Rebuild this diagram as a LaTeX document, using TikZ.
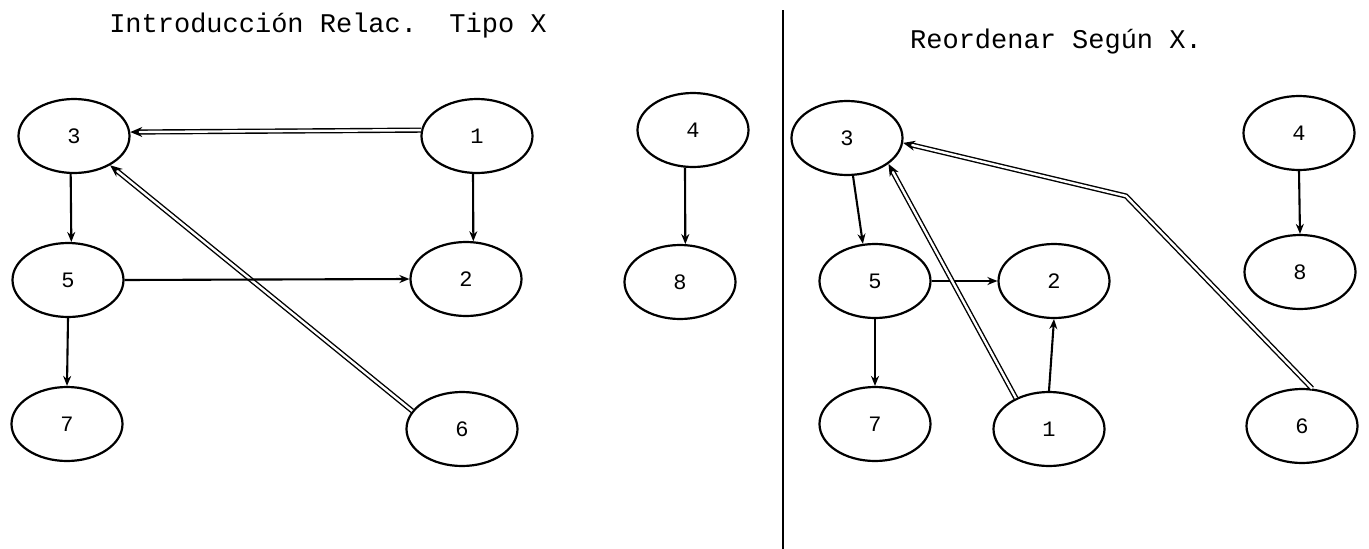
\documentclass[tikz,border=0pt]{standalone}
\usepackage{fontspec}
\newfontfamily\tw{Liberation Mono}
\usetikzlibrary{shapes.geometric,arrows.meta}
\begin{document}
\frenchspacing
\begin{tikzpicture}[x=1pt,y=-1pt,
  nd/.style={ellipse, draw, line width=2.2pt, minimum width=111pt, minimum height=74pt,
             inner sep=0pt, font=\tw\fontsize{22}{24}\selectfont},
  ar/.style={line width=2.1pt, -{Stealth[length=10pt,width=8pt]}},
  dbl/.style={double, line width=1.4pt, double distance=2.4pt, line join=miter,
              -{Stealth[length=12pt,width=10pt]}},
  ttl/.style={anchor=base, inner sep=0pt, font=\tw\fontsize{27}{30}\selectfont},
  divider/.style={line width=2.2pt}]
\useasboundingbox (0,0) rectangle (1369,549);
% titles
\node[ttl] (tL) at (328,32) {Introducción Relac.~~Tipo X};
\node[ttl] (tR) at (1056,48) {Reordenar Según X.};
% divider
\coordinate (dTop) at (783,10);
\coordinate (dBot) at (783,549);
\draw[divider] (dTop) -- (dBot);
% left graph
\node[nd] (n3l) at (74,136) {3};
\node[nd] (n1l) at (477,136) {1};
\node[nd] (n5l) at (68,280) {5};
\node[nd] (n2l) at (466,279) {2};
\node[nd] (n7l) at (67,424) {7};
\node[nd] (n6l) at (462,429) {6};
\node[nd] (n4l) at (693,130) {4};
\node[nd] (n8l) at (680,282) {8};
\draw[dbl] (n1l.174) -- (n3l.4);
\draw[dbl] (n6l.160) -- (n3l.-39);
\draw[ar] (n3l.-95) -- (n5l.85);
\draw[ar] (n1l.-96) -- (n2l.79);
\draw[ar] (n5l.east) -- (n2l.west);
\draw[ar] (n5l.south) -- (n7l.north);
\draw[ar] (n4l.-102) -- (n8l.82);
% right graph
\node[nd] (n3r) at (847,138) {3};
\node[nd] (n5r) at (875,281) {5};
\node[nd] (n2r) at (1054,281) {2};
\node[nd] (n7r) at (875,424) {7};
\node[nd] (n1r) at (1049,429) {1};
\node[nd] (n4r) at (1299,133) {4};
\node[nd] (n8r) at (1300,272) {8};
\node[nd] (n6r) at (1302,426) {6};
\coordinate (bend) at (1126,196);
\draw[ar] (n3r.-81) -- (n5r.108);
\draw[ar] (n5r.east) -- (n2r.west);
\draw[ar] (n5r.south) -- (n7r.north);
\draw[ar] (n1r.north) -- (n2r.south);
\draw[ar] (n4r.south) -- (n8r.north);
\draw[dbl] (n1r.137) -- (n3r.-32);
\draw[dbl] (n6r.75) -- (bend) -- (n3r.-5);
\end{tikzpicture}
\end{document}
